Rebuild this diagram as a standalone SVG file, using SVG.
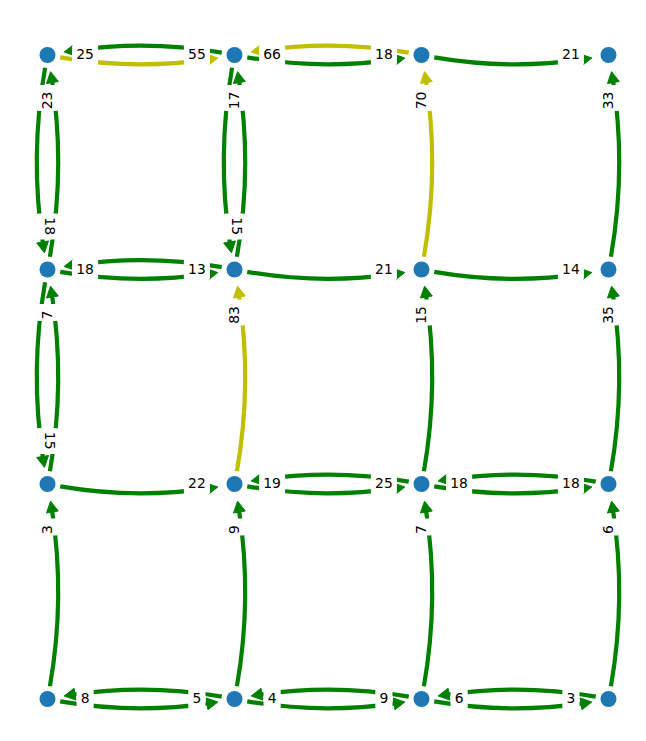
<svg xmlns="http://www.w3.org/2000/svg" width="646" height="741" viewBox="0 0 646 741">
<style>
.e path{fill:none;stroke-width:4.2;stroke-linecap:butt}
.e polygon{stroke-width:1;stroke-linejoin:round}
.g path{stroke:#008000}.g polygon{fill:#008000;stroke:#008000}
.y path{stroke:#bfbf00}.y polygon{fill:#bfbf00;stroke:#bfbf00}
.lb rect{fill:#ffffff;stroke:none}
.lb text{font-family:"DejaVu Sans","Liberation Sans",sans-serif;font-size:13.9px;text-anchor:middle;fill:#000000}
.node circle{fill:#1f77b4}
</style>
<defs>
<path id="hc" d="M12.75,2.38 Q87.13,15.22 161.51,4.40"/>
<polygon id="ha" points="170.33,3.04 160.45,10.74 158.51,-1.10"/>
</defs>
<g id="connectors">
<!-- row 0 horizontal -->
<g id="e_10_00" class="e g" transform="translate(234.5,55) rotate(180)"><path d="M12.75,2.38 Q87.13,15.22 161.51,4.40"/><polygon points="170.33,3.04 160.45,10.74 158.51,-1.10"/></g>
<g id="e_00_10" class="e y" transform="translate(47.5,55)"><path d="M12.75,2.38 Q87.13,15.22 161.51,4.40"/><polygon points="170.33,3.04 160.45,10.74 158.51,-1.10"/></g>
<g id="e_10_20" class="e g" transform="translate(234.5,55)"><path d="M12.75,2.38 Q87.13,15.22 161.51,4.40"/><polygon points="170.33,3.04 160.45,10.74 158.51,-1.10"/></g>
<g id="e_20_10" class="e y" transform="translate(421.5,55) rotate(180)"><path d="M12.75,2.38 Q87.13,15.22 161.51,4.40"/><polygon points="170.33,3.04 160.45,10.74 158.51,-1.10"/></g>
<g id="e_20_30" class="e g" transform="translate(421.5,55)"><path d="M12.75,2.38 Q87.13,15.22 161.51,4.40"/><polygon points="170.33,3.04 160.45,10.74 158.51,-1.10"/></g>
<!-- rows 0-1 vertical -->
<g id="e_01_00" class="e g" transform="translate(47.5,269.5) rotate(-90)"><path d="M12.75,2.40 Q100.87,17.93 189.00,4.49"/><polygon points="197.84,3.07 187.99,10.82 185.99,-1.02"/></g>
<g id="e_00_01" class="e g" transform="translate(47.5,55) rotate(90)"><path d="M12.75,2.40 Q100.87,17.93 189.00,4.49"/><polygon points="197.84,3.07 187.99,10.82 185.99,-1.02"/></g>
<g id="e_11_10" class="e g" transform="translate(234.5,269.5) rotate(-90)"><path d="M12.75,2.40 Q100.87,17.93 189.00,4.49"/><polygon points="197.84,3.07 187.99,10.82 185.99,-1.02"/></g>
<g id="e_10_11" class="e g" transform="translate(234.5,55) rotate(90)"><path d="M12.75,2.40 Q100.87,17.93 189.00,4.49"/><polygon points="197.84,3.07 187.99,10.82 185.99,-1.02"/></g>
<g id="e_21_20" class="e y" transform="translate(421.5,269.5) rotate(-90)"><path d="M12.75,2.40 Q100.87,17.93 189.00,4.49"/><polygon points="197.84,3.07 187.99,10.82 185.99,-1.02"/></g>
<g id="e_31_30" class="e g" transform="translate(608.5,269.5) rotate(-90)"><path d="M12.75,2.40 Q100.87,17.93 189.00,4.49"/><polygon points="197.84,3.07 187.99,10.82 185.99,-1.02"/></g>
<!-- row 1 horizontal -->
<g id="e_11_01" class="e g" transform="translate(234.5,269.5) rotate(180)"><path d="M12.75,2.38 Q87.13,15.22 161.51,4.40"/><polygon points="170.33,3.04 160.45,10.74 158.51,-1.10"/></g>
<g id="e_01_11" class="e g" transform="translate(47.5,269.5)"><path d="M12.75,2.38 Q87.13,15.22 161.51,4.40"/><polygon points="170.33,3.04 160.45,10.74 158.51,-1.10"/></g>
<g id="e_11_21" class="e g" transform="translate(234.5,269.5)"><path d="M12.75,2.38 Q87.13,15.22 161.51,4.40"/><polygon points="170.33,3.04 160.45,10.74 158.51,-1.10"/></g>
<g id="e_21_31" class="e g" transform="translate(421.5,269.5)"><path d="M12.75,2.38 Q87.13,15.22 161.51,4.40"/><polygon points="170.33,3.04 160.45,10.74 158.51,-1.10"/></g>
<!-- rows 1-2 vertical -->
<g id="e_02_01" class="e g" transform="translate(47.5,484) rotate(-90)"><path d="M12.75,2.40 Q100.87,17.93 189.00,4.49"/><polygon points="197.84,3.07 187.99,10.82 185.99,-1.02"/></g>
<g id="e_01_02" class="e g" transform="translate(47.5,269.5) rotate(90)"><path d="M12.75,2.40 Q100.87,17.93 189.00,4.49"/><polygon points="197.84,3.07 187.99,10.82 185.99,-1.02"/></g>
<g id="e_12_11" class="e y" transform="translate(234.5,484) rotate(-90)"><path d="M12.75,2.40 Q100.87,17.93 189.00,4.49"/><polygon points="197.84,3.07 187.99,10.82 185.99,-1.02"/></g>
<g id="e_22_21" class="e g" transform="translate(421.5,484) rotate(-90)"><path d="M12.75,2.40 Q100.87,17.93 189.00,4.49"/><polygon points="197.84,3.07 187.99,10.82 185.99,-1.02"/></g>
<g id="e_32_31" class="e g" transform="translate(608.5,484) rotate(-90)"><path d="M12.75,2.40 Q100.87,17.93 189.00,4.49"/><polygon points="197.84,3.07 187.99,10.82 185.99,-1.02"/></g>
<!-- row 2 horizontal -->
<g id="e_02_12" class="e g" transform="translate(47.5,484)"><path d="M12.75,2.38 Q87.13,15.22 161.51,4.40"/><polygon points="170.33,3.04 160.45,10.74 158.51,-1.10"/></g>
<g id="e_22_12" class="e g" transform="translate(421.5,484) rotate(180)"><path d="M12.75,2.38 Q87.13,15.22 161.51,4.40"/><polygon points="170.33,3.04 160.45,10.74 158.51,-1.10"/></g>
<g id="e_12_22" class="e g" transform="translate(234.5,484)"><path d="M12.75,2.38 Q87.13,15.22 161.51,4.40"/><polygon points="170.33,3.04 160.45,10.74 158.51,-1.10"/></g>
<g id="e_32_22" class="e g" transform="translate(608.5,484) rotate(180)"><path d="M12.75,2.38 Q87.13,15.22 161.51,4.40"/><polygon points="170.33,3.04 160.45,10.74 158.51,-1.10"/></g>
<g id="e_22_32" class="e g" transform="translate(421.5,484)"><path d="M12.75,2.38 Q87.13,15.22 161.51,4.40"/><polygon points="170.33,3.04 160.45,10.74 158.51,-1.10"/></g>
<!-- rows 2-3 vertical -->
<g id="e_03_02" class="e g" transform="translate(47.5,699) rotate(-90)"><path d="M12.75,2.40 Q100.87,17.93 189.00,4.49"/><polygon points="197.84,3.07 187.99,10.82 185.99,-1.02"/></g>
<g id="e_13_12" class="e g" transform="translate(234.5,699) rotate(-90)"><path d="M12.75,2.40 Q100.87,17.93 189.00,4.49"/><polygon points="197.84,3.07 187.99,10.82 185.99,-1.02"/></g>
<g id="e_23_22" class="e g" transform="translate(421.5,699) rotate(-90)"><path d="M12.75,2.40 Q100.87,17.93 189.00,4.49"/><polygon points="197.84,3.07 187.99,10.82 185.99,-1.02"/></g>
<g id="e_33_32" class="e g" transform="translate(608.5,699) rotate(-90)"><path d="M12.75,2.40 Q100.87,17.93 189.00,4.49"/><polygon points="197.84,3.07 187.99,10.82 185.99,-1.02"/></g>
<!-- row 3 horizontal -->
<g id="e_13_03" class="e g" transform="translate(234.5,699) rotate(180)"><path d="M12.75,2.38 Q87.13,15.22 161.51,4.40"/><polygon points="170.33,3.04 160.45,10.74 158.51,-1.10"/></g>
<g id="e_03_13" class="e g" transform="translate(47.5,699)"><path d="M12.75,2.38 Q87.13,15.22 161.51,4.40"/><polygon points="170.33,3.04 160.45,10.74 158.51,-1.10"/></g>
<g id="e_23_13" class="e g" transform="translate(421.5,699) rotate(180)"><path d="M12.75,2.38 Q87.13,15.22 161.51,4.40"/><polygon points="170.33,3.04 160.45,10.74 158.51,-1.10"/></g>
<g id="e_13_23" class="e g" transform="translate(234.5,699)"><path d="M12.75,2.38 Q87.13,15.22 161.51,4.40"/><polygon points="170.33,3.04 160.45,10.74 158.51,-1.10"/></g>
<g id="e_33_23" class="e g" transform="translate(608.5,699) rotate(180)"><path d="M12.75,2.38 Q87.13,15.22 161.51,4.40"/><polygon points="170.33,3.04 160.45,10.74 158.51,-1.10"/></g>
<g id="e_23_33" class="e g" transform="translate(421.5,699)"><path d="M12.75,2.38 Q87.13,15.22 161.51,4.40"/><polygon points="170.33,3.04 160.45,10.74 158.51,-1.10"/></g>
</g>
<g id="edge-labels" class="lb">
<!-- horizontal labels -->
<g transform="translate(85.1,55)"><rect x="-13.05" y="-12.3" width="26.1" height="24.6" rx="4.2"/><text y="4.07">25</text></g>
<g transform="translate(196.9,55)"><rect x="-13.05" y="-12.3" width="26.1" height="24.6" rx="4.2"/><text y="4.07">55</text></g>
<g transform="translate(272.1,55)"><rect x="-13.05" y="-12.3" width="26.1" height="24.6" rx="4.2"/><text y="4.07">66</text></g>
<g transform="translate(383.9,55)"><rect x="-13.05" y="-12.3" width="26.1" height="24.6" rx="4.2"/><text y="4.07">18</text></g>
<g transform="translate(570.9,55)"><rect x="-13.05" y="-12.3" width="26.1" height="24.6" rx="4.2"/><text y="4.07">21</text></g>
<g transform="translate(85.1,269.5)"><rect x="-13.05" y="-12.3" width="26.1" height="24.6" rx="4.2"/><text y="4.07">18</text></g>
<g transform="translate(196.9,269.5)"><rect x="-13.05" y="-12.3" width="26.1" height="24.6" rx="4.2"/><text y="4.07">13</text></g>
<g transform="translate(383.9,269.5)"><rect x="-13.05" y="-12.3" width="26.1" height="24.6" rx="4.2"/><text y="4.07">21</text></g>
<g transform="translate(570.9,269.5)"><rect x="-13.05" y="-12.3" width="26.1" height="24.6" rx="4.2"/><text y="4.07">14</text></g>
<g transform="translate(196.9,484)"><rect x="-13.05" y="-12.3" width="26.1" height="24.6" rx="4.2"/><text y="4.07">22</text></g>
<g transform="translate(272.1,484)"><rect x="-13.05" y="-12.3" width="26.1" height="24.6" rx="4.2"/><text y="4.07">19</text></g>
<g transform="translate(383.9,484)"><rect x="-13.05" y="-12.3" width="26.1" height="24.6" rx="4.2"/><text y="4.07">25</text></g>
<g transform="translate(459.1,484)"><rect x="-13.05" y="-12.3" width="26.1" height="24.6" rx="4.2"/><text y="4.07">18</text></g>
<g transform="translate(570.9,484)"><rect x="-13.05" y="-12.3" width="26.1" height="24.6" rx="4.2"/><text y="4.07">18</text></g>
<g transform="translate(85.1,699)"><rect x="-8.6" y="-12.3" width="17.2" height="24.6" rx="4.2"/><text y="4.07">8</text></g>
<g transform="translate(196.9,699)"><rect x="-8.6" y="-12.3" width="17.2" height="24.6" rx="4.2"/><text y="4.07">5</text></g>
<g transform="translate(272.1,699)"><rect x="-8.6" y="-12.3" width="17.2" height="24.6" rx="4.2"/><text y="4.07">4</text></g>
<g transform="translate(383.9,699)"><rect x="-8.6" y="-12.3" width="17.2" height="24.6" rx="4.2"/><text y="4.07">9</text></g>
<g transform="translate(459.1,699)"><rect x="-8.6" y="-12.3" width="17.2" height="24.6" rx="4.2"/><text y="4.07">6</text></g>
<g transform="translate(570.9,699)"><rect x="-8.6" y="-12.3" width="17.2" height="24.6" rx="4.2"/><text y="4.07">3</text></g>
<!-- vertical labels reading upward -->
<g transform="translate(47.5,98) rotate(-90)"><rect x="-13.05" y="-12.3" width="26.1" height="24.6" rx="4.2"/><text x="-2.5" y="4.07">23</text></g>
<g transform="translate(234.5,98) rotate(-90)"><rect x="-13.05" y="-12.3" width="26.1" height="24.6" rx="4.2"/><text x="-2.5" y="4.07">17</text></g>
<g transform="translate(421.5,98) rotate(-90)"><rect x="-13.05" y="-12.3" width="26.1" height="24.6" rx="4.2"/><text x="-2.5" y="4.07">70</text></g>
<g transform="translate(608.5,98) rotate(-90)"><rect x="-13.05" y="-12.3" width="26.1" height="24.6" rx="4.2"/><text x="-2.5" y="4.07">33</text></g>
<g transform="translate(47.5,312.5) rotate(-90)"><rect x="-8.6" y="-12.3" width="17.2" height="24.6" rx="4.2"/><text x="-2.5" y="4.07">7</text></g>
<g transform="translate(234.5,312.5) rotate(-90)"><rect x="-13.05" y="-12.3" width="26.1" height="24.6" rx="4.2"/><text x="-2.5" y="4.07">83</text></g>
<g transform="translate(421.5,312.5) rotate(-90)"><rect x="-13.05" y="-12.3" width="26.1" height="24.6" rx="4.2"/><text x="-2.5" y="4.07">15</text></g>
<g transform="translate(608.5,312.5) rotate(-90)"><rect x="-13.05" y="-12.3" width="26.1" height="24.6" rx="4.2"/><text x="-2.5" y="4.07">35</text></g>
<g transform="translate(47.5,527) rotate(-90)"><rect x="-8.6" y="-12.3" width="17.2" height="24.6" rx="4.2"/><text x="-2.5" y="4.07">3</text></g>
<g transform="translate(234.5,527) rotate(-90)"><rect x="-8.6" y="-12.3" width="17.2" height="24.6" rx="4.2"/><text x="-2.5" y="4.07">9</text></g>
<g transform="translate(421.5,527) rotate(-90)"><rect x="-8.6" y="-12.3" width="17.2" height="24.6" rx="4.2"/><text x="-2.5" y="4.07">7</text></g>
<g transform="translate(608.5,527) rotate(-90)"><rect x="-8.6" y="-12.3" width="17.2" height="24.6" rx="4.2"/><text x="-2.5" y="4.07">6</text></g>
<!-- vertical labels reading downward -->
<g transform="translate(47.5,226.5) rotate(90)"><rect x="-13.05" y="-12.3" width="26.1" height="24.6" rx="4.2"/><text x="-0.3" y="2.27">18</text></g>
<g transform="translate(234.5,226.5) rotate(90)"><rect x="-13.05" y="-12.3" width="26.1" height="24.6" rx="4.2"/><text x="-0.3" y="2.27">15</text></g>
<g transform="translate(47.5,441) rotate(90)"><rect x="-13.05" y="-12.3" width="26.1" height="24.6" rx="4.2"/><text x="-0.3" y="2.27">15</text></g>
</g>
<g id="nodes" class="node">
<g id="n00"><circle cx="47.5" cy="55" r="8"/></g>
<g id="n10"><circle cx="234.5" cy="55" r="8"/></g>
<g id="n20"><circle cx="421.5" cy="55" r="8"/></g>
<g id="n30"><circle cx="608.5" cy="55" r="8"/></g>
<g id="n01"><circle cx="47.5" cy="269.5" r="8"/></g>
<g id="n11"><circle cx="234.5" cy="269.5" r="8"/></g>
<g id="n21"><circle cx="421.5" cy="269.5" r="8"/></g>
<g id="n31"><circle cx="608.5" cy="269.5" r="8"/></g>
<g id="n02"><circle cx="47.5" cy="484" r="8"/></g>
<g id="n12"><circle cx="234.5" cy="484" r="8"/></g>
<g id="n22"><circle cx="421.5" cy="484" r="8"/></g>
<g id="n32"><circle cx="608.5" cy="484" r="8"/></g>
<g id="n03"><circle cx="47.5" cy="699" r="8"/></g>
<g id="n13"><circle cx="234.5" cy="699" r="8"/></g>
<g id="n23"><circle cx="421.5" cy="699" r="8"/></g>
<g id="n33"><circle cx="608.5" cy="699" r="8"/></g>
</g>
</svg>
